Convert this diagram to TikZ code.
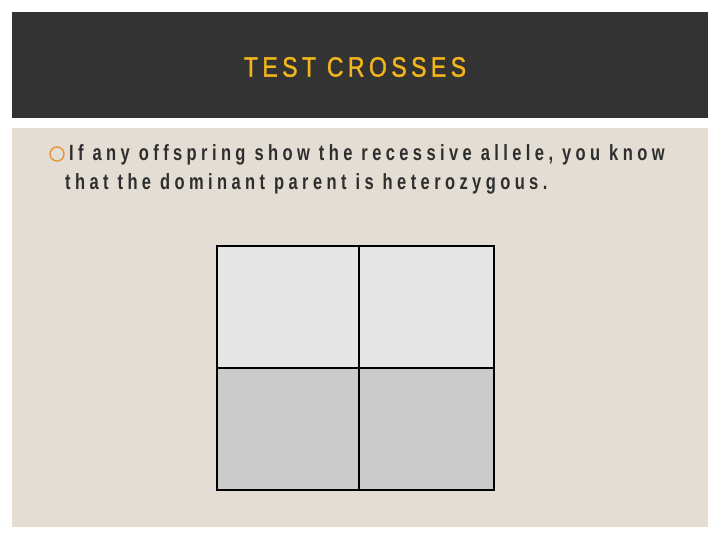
\documentclass[tikz,border=0pt]{standalone}
\usepackage{fontspec}
\setmainfont{Liberation Sans}
\newfontfamily\titlefont[FakeStretch=0.82,LetterSpace=16,FakeBold=1.2]{Liberation Sans}
\newfontfamily\bodyfont[FakeStretch=0.75,LetterSpace=20]{Liberation Sans Bold}
\definecolor{header}{HTML}{333333}
\definecolor{panel}{HTML}{E3DDD3}
\definecolor{titlecol}{HTML}{F2B51C}
\definecolor{bulletcol}{HTML}{E8902E}
\definecolor{bodytext}{HTML}{2E2E2E}
\definecolor{cellhi}{HTML}{E6E6E6}
\definecolor{celllo}{HTML}{CBCBCB}
\tikzset{
  cell/.style={draw=black, line width=2pt, minimum width=142pt, minimum height=122pt, inner sep=0pt, anchor=north west},
  bodyline/.style={anchor=base west, inner sep=0pt, text=bodytext, font=\bodyfont\fontsize{22}{24}\selectfont}
}
\begin{document}
\begin{tikzpicture}[x=1pt,y=-1pt]
\useasboundingbox (0,0) rectangle (720,540);
\fill[white] (0,0) rectangle (720,540);
\fill[header] (12,12) rectangle (708,118);
\fill[panel] (12,128) rectangle (708,527);
\node[text=titlecol, font=\titlefont\fontsize{28}{30}\selectfont, inner sep=0pt] (title) at (355,67) {TEST CROSSES};
\node[draw=bulletcol, circle, line width=1.3pt, minimum size=14pt, inner sep=0pt] (bullet) at (57,154) {};
\node[bodyline] (line1) at (69,161) {If any offspring show the recessive allele, you know};
\node[bodyline] (line2) at (65,190) {that the dominant parent is heterozygous.};
\node[cell, fill=cellhi, minimum width=142pt] (c11) at (216,245) {};
\node[cell, fill=cellhi, minimum width=135pt] (c12) at (358,245) {};
\node[cell, fill=celllo, minimum width=142pt] (c21) at (216,367) {};
\node[cell, fill=celllo, minimum width=135pt] (c22) at (358,367) {};
\end{tikzpicture}
\end{document}
